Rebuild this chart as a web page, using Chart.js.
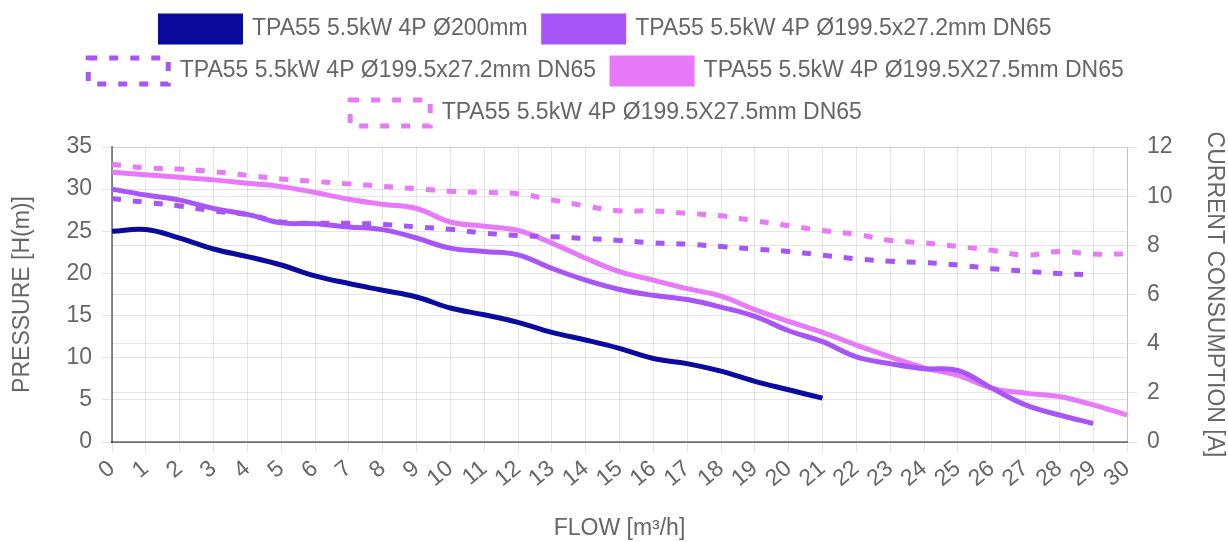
<!DOCTYPE html>
<html>
<head>
<meta charset="utf-8">
<script src="https://cdn.jsdelivr.net/npm/chart.js@4"></script>
<style>
  html, body { margin: 0; padding: 0; background: #fff; }
  #wrap { width: 1228px; height: 542px; }
</style>
</head>
<body>
<div id="wrap"><canvas id="curvas"></canvas></div>
<script>
// caudal m3/h, 0..30
const flujo = ['0','1','2','3','4','5','6','7','8','9','10','11','12','13','14','15',
  '16','17','18','19','20','21','22','23','24','25','26','27','28','29','30'];

// presion H(m)
const presion200 = [25, 25.2, 24.2, 22.9, 22.0, 21.0, 19.7, 18.8, 18.0, 17.2, 15.9,
  15.1, 14.2, 13.0, 12.1, 11.1, 9.9, 9.3, 8.4, 7.2, 6.2, 5.2];
const presion272 = [30, 29.3, 28.7, 27.7, 27.0, 26.0, 25.9, 25.5, 25.2, 24.2, 23.0,
  22.6, 22.2, 20.6, 19.2, 18.1, 17.4, 16.9, 16.0, 14.9, 13.2, 11.9, 10.1, 9.3, 8.7,
  8.5, 6.4, 4.4, 3.2, 2.2];
const presion275 = [32.0, 31.7, 31.4, 31.1, 30.7, 30.3, 29.6, 28.8, 28.2, 27.7, 26.1,
  25.6, 25.1, 23.6, 21.8, 20.2, 19.2, 18.2, 17.3, 15.7, 14.3, 13.0, 11.5, 10.1, 8.8,
  7.9, 6.4, 5.8, 5.4, 4.4, 3.2];

// consumo A
const corriente272 = [9.9, 9.75, 9.6, 9.4, 9.25, 8.95, 8.9, 8.9, 8.85, 8.75, 8.65,
  8.5, 8.4, 8.35, 8.28, 8.2, 8.1, 8.05, 7.95, 7.85, 7.75, 7.6, 7.45, 7.35, 7.3, 7.2,
  7.05, 6.95, 6.85, 6.8];
const corriente275 = [11.3, 11.15, 11.1, 11.0, 10.85, 10.7, 10.6, 10.5, 10.4, 10.3,
  10.2, 10.15, 10.1, 9.85, 9.6, 9.4, 9.4, 9.3, 9.2, 9.0, 8.8, 8.6, 8.45, 8.2, 8.1,
  7.95, 7.8, 7.6, 7.75, 7.65, 7.65];

const AZUL = '#0a0a9e';
const MORADO = '#a855f7';
const ROSA = '#e879f9';

Chart.defaults.font.family = 'Arial, "Liberation Sans", sans-serif';
Chart.defaults.font.size = 23;
Chart.defaults.color = '#666';

// un poco de aire entre la leyenda y la grafica, y la leyenda algo a la izquierda
const ajusteLeyenda = {
  id: 'ajusteLeyenda',
  beforeInit(chart) {
    const fitOrig = chart.legend.fit;
    chart.legend.fit = function () {
      fitOrig.call(this);
      this.height += 11;
    };
  },
  afterLayout(chart) {
    chart.legend.right -= 16;
  }
};

function linea(label, data, color, eje, discontinua) {
  return {
    label: label,
    data: data,
    yAxisID: eje,
    borderColor: color,
    backgroundColor: discontinua ? 'rgba(255,255,255,0)' : color,
    borderWidth: 5,
    borderDash: discontinua ? [9, 12] : [],
    pointRadius: 0,
    pointHoverRadius: 0,
    tension: 0.4,
    fill: false
  };
}

new Chart(document.getElementById('curvas'), {
  type: 'line',
  data: {
    labels: flujo,
    datasets: [
      linea('TPA55 5.5kW 4P Ø200mm', presion200, AZUL, 'y', false),
      linea('TPA55 5.5kW 4P Ø199.5x27.2mm DN65', presion272, MORADO, 'y', false),
      linea('TPA55 5.5kW 4P Ø199.5x27.2mm DN65', corriente272, MORADO, 'y1', true),
      linea('TPA55 5.5kW 4P Ø199.5X27.5mm DN65', presion275, ROSA, 'y', false),
      linea('TPA55 5.5kW 4P Ø199.5X27.5mm DN65', corriente275, ROSA, 'y1', true)
    ]
  },
  options: {
    responsive: true,
    maintainAspectRatio: false,
    animation: false,
    layout: { padding: 0 },
    plugins: {
      legend: {
        display: true,
        labels: { boxWidth: 80, boxHeight: 26, padding: 16 }
      },
      tooltip: { enabled: false }
    },
    scales: {
      x: {
        grid: { color: 'rgba(0,0,0,0.1)', tickLength: 10 },
        border: { color: 'rgba(0,0,0,0.45)', width: 2 },
        ticks: { minRotation: 40, maxRotation: 40, autoSkip: false, padding: 3 },
        title: { display: true, text: 'FLOW [m³/h]', padding: { top: 20, bottom: 0 } },
        afterFit: s => { s.height = 100; }
      },
      y: {
        position: 'left',
        min: 0,
        max: 35,
        grid: { color: 'rgba(0,0,0,0.1)', tickLength: 10 },
        border: { color: 'rgba(0,0,0,0.45)', width: 2 },
        ticks: { stepSize: 5, padding: 10 },
        title: { display: true, text: 'PRESSURE [H(m)]', padding: { top: 9, bottom: 4 } },
        afterFit: s => { s.width = 112; }
      },
      y1: {
        position: 'right',
        min: 0,
        max: 12,
        grid: { color: 'rgba(0,0,0,0.1)', tickLength: 10 },
        border: { color: 'rgba(0,0,0,0.15)' },
        ticks: { stepSize: 2, padding: 10 },
        title: { display: true, text: 'CURRENT CONSUMPTION [A]', padding: { top: 0, bottom: 4 } },
        afterFit: s => { s.width = 101; }
      }
    }
  },
  plugins: [ajusteLeyenda]
});
</script>
</body>
</html>
